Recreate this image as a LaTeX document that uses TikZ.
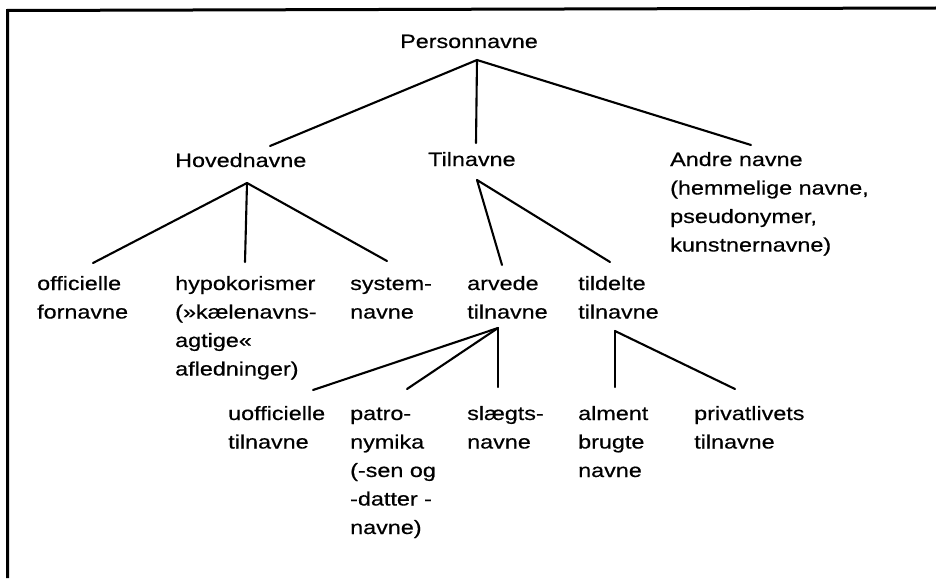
\documentclass[tikz,border=0pt]{standalone}
\usepackage{fontspec}
\setmainfont{Liberation Sans}[FakeStretch=1.21,FakeBold=0.5]
\newcommand{\ml}[1]{\begin{tabular}[t]{@{}l@{}}#1\end{tabular}}
\begin{document}
\begin{tikzpicture}[x=1pt,y=-1pt,
  lbl/.style={anchor=base west, inner sep=0pt, font=\fontsize{19.3}{28.5}\selectfont},
  edge/.style={line width=2.1pt, line cap=round, line join=round},
  frameline/.style={line width=3pt}]
\useasboundingbox (0,0) rectangle (936,578);
\draw[frameline] (7.5,578) -- (7.5,10.5) -- (936,8);

% nodes
\node[lbl] (pers)   at (400,48)  {Personnavne};
\node[lbl] (hoved)  at (175,167) {Hovednavne};
\node[lbl] (til)    at (428,166) {Tilnavne};
\node[lbl] (andre)  at (670,166) {\ml{Andre navne\\(hemmelige navne,\\pseudonymer,\\kunstnernavne)}};
\node[lbl] (offi)   at (37,290)  {\ml{officielle\\fornavne}};
\node[lbl] (hypo)   at (175,290) {\ml{hypokorismer\\(»kælenavns-\\agtige«\\afledninger)}};
\node[lbl] (sys)    at (350,290) {\ml{system-\\navne}};
\node[lbl] (arv)    at (467,290) {\ml{arvede\\tilnavne}};
\node[lbl] (tild)   at (578,290) {\ml{tildelte\\tilnavne}};
\node[lbl] (uoff)   at (228,420) {\ml{uofficielle\\tilnavne}};
\node[lbl] (patro)  at (350,420) {\ml{patro-\\nymika\\(-sen og\\-datter -\\navne)}};
\node[lbl] (slaegt) at (467,420) {\ml{slægts-\\navne}};
\node[lbl] (alm)    at (578,420) {\ml{alment\\brugte\\navne}};
\node[lbl] (priv)   at (694,420) {\ml{privatlivets\\tilnavne}};

% connector end points
\coordinate (pers-j)   at (477,60);
\coordinate (hoved-t)  at (270,146);
\coordinate (til-t)    at (476,143);
\coordinate (andre-t)  at (751,145);
\coordinate (hoved-j)  at (247,183);
\coordinate (offi-t)   at (93,263);
\coordinate (hypo-t)   at (245,262);
\coordinate (sys-t)    at (387,261);
\coordinate (til-j)    at (477,180);
\coordinate (arv-t)    at (502,265);
\coordinate (tild-t)   at (610,262);
\coordinate (arv-j)    at (498,328);
\coordinate (uoff-t)   at (313,390);
\coordinate (patro-t)  at (407,389);
\coordinate (slaegt-t) at (498,387);
\coordinate (tild-j)   at (615,331);
\coordinate (alm-t)    at (615,387);
\coordinate (priv-t)   at (735,389);

% connectors
\draw[edge] (pers-j) -- (hoved-t);
\draw[edge] (pers-j) -- (til-t);
\draw[edge] (pers-j) -- (andre-t);
\draw[edge] (hoved-j) -- (offi-t);
\draw[edge] (hoved-j) -- (hypo-t);
\draw[edge] (hoved-j) -- (sys-t);
\draw[edge] (til-j) -- (arv-t);
\draw[edge] (til-j) -- (tild-t);
\draw[edge] (arv-j) -- (uoff-t);
\draw[edge] (arv-j) -- (patro-t);
\draw[edge] (arv-j) -- (slaegt-t);
\draw[edge] (tild-j) -- (alm-t);
\draw[edge] (tild-j) -- (priv-t);
\end{tikzpicture}
\end{document}
